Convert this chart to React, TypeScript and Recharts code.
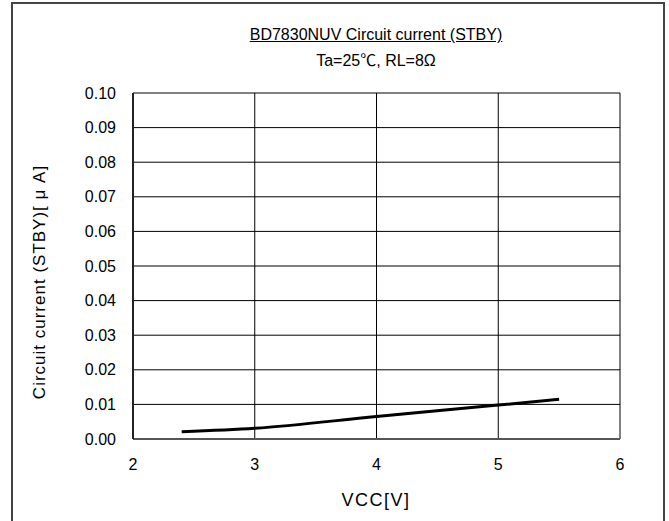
import React from 'react'
import { LineChart, Line, XAxis, YAxis, CartesianGrid } from 'recharts'

const vcc = [2.4, 3, 4, 5, 5.5]
const current = [0.0021, 0.0031, 0.0065, 0.0098, 0.0115]
const xTicks = [2, 3, 4, 5, 6]
const yTicks = [0, 0.01, 0.02, 0.03, 0.04, 0.05, 0.06, 0.07, 0.08, 0.09, 0.1]

const data = vcc.map((v, i) => ({ vcc: v, current: current[i] }))

const font = '"Liberation Sans", "Noto Sans CJK JP", sans-serif'

export default function App() {
  return (
    <div
      style={{
        position: 'absolute',
        left: 0,
        top: 0,
        width: 669,
        height: 521,
        overflow: 'hidden',
        background: '#fff',
        fontFamily: font
      }}
    >
      <div
        style={{
          position: 'absolute',
          left: 11,
          top: 2,
          width: 650,
          height: 560,
          border: '2px solid #444'
        }}
      />
      <div
        style={{
          position: 'absolute',
          left: 0,
          width: 752,
          top: 26,
          textAlign: 'center',
          fontSize: 16,
          textDecoration: 'underline'
        }}
      >
        BD7830NUV Circuit current (STBY)
      </div>
      <div
        style={{ position: 'absolute', left: 0, width: 752, top: 47, textAlign: 'center', fontSize: 16 }}
      >
        Ta=25℃, RL=8Ω
      </div>
      <LineChart
        width={669}
        height={521}
        data={data}
        margin={{ top: 93, right: 49, left: 73, bottom: 42 }}
      >
        <CartesianGrid stroke="#000" strokeWidth={1} />
        <XAxis
          dataKey="vcc"
          type="number"
          domain={[2, 6]}
          ticks={xTicks}
          height={40}
          tickSize={0}
          tickMargin={20}
          axisLine={{ stroke: '#555', strokeWidth: 2 }}
          tick={{ fill: '#000', fontSize: 16, fontFamily: font }}
        />
        <YAxis
          type="number"
          domain={[0, 0.1]}
          ticks={yTicks}
          width={60}
          tickSize={0}
          tickMargin={17}
          tickFormatter={(v: number) => v.toFixed(2)}
          axisLine={{ stroke: '#222', strokeWidth: 2 }}
          tick={{ fill: '#000', fontSize: 16, fontFamily: font }}
        />
        <Line
          dataKey="current"
          type="monotone"
          stroke="#000"
          strokeWidth={3}
          dot={false}
          isAnimationActive={false}
        />
      </LineChart>
      <div
        style={{
          position: 'absolute',
          left: 0,
          width: 752,
          top: 490,
          textAlign: 'center',
          fontSize: 18,
          letterSpacing: 1.5
        }}
      >
        VCC[V]
      </div>
      <div
        style={{
          position: 'absolute',
          left: 40,
          top: 282,
          transform: 'translate(-50%, -50%) rotate(-90deg)',
          whiteSpace: 'nowrap',
          fontSize: 17,
          letterSpacing: 1
        }}
      >
        Circuit current (STBY)[ μ A]
      </div>
    </div>
  )
}
